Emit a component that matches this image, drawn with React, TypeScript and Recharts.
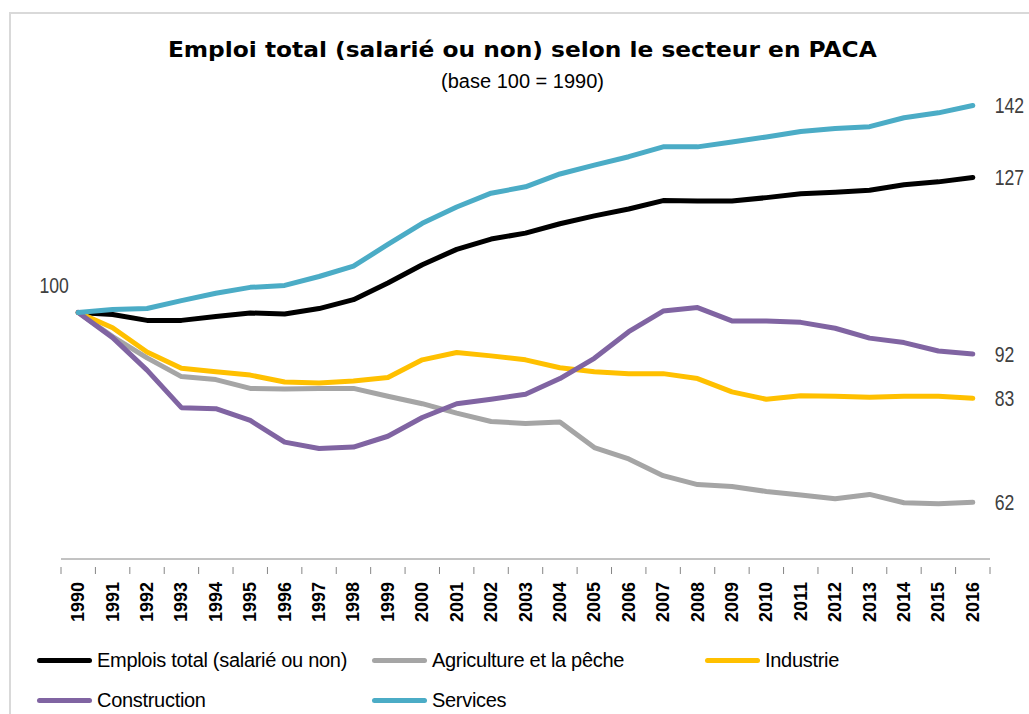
import React from 'react'
import { LineChart, Line, XAxis, YAxis, LabelList } from 'recharts'

const years = [
  '1990', '1991', '1992', '1993', '1994', '1995', '1996', '1997', '1998', '1999',
  '2000', '2001', '2002', '2003', '2004', '2005', '2006', '2007', '2008', '2009',
  '2010', '2011', '2012', '2013', '2014', '2015', '2016',
]

const total = [
  100, 99.6, 98.4, 98.4, 99.2, 99.9, 99.7, 100.8, 102.6, 106.0, 109.7, 112.8, 114.9, 116.1,
  118.0, 119.6, 121.0, 122.7, 122.6, 122.6, 123.3, 124.1, 124.4, 124.8, 125.9, 126.5, 127.4,
]
const agriculture = [
  100, 95.1, 90.8, 87.0, 86.4, 84.6, 84.5, 84.6, 84.6, 83.0, 81.5, 79.6, 77.9, 77.5,
  77.8, 72.6, 70.3, 66.9, 65.1, 64.7, 63.7, 63.0, 62.2, 63.1, 61.4, 61.2, 61.5,
]
const industrie = [
  100, 96.9, 92.0, 88.7, 88.0, 87.3, 85.9, 85.7, 86.1, 86.8, 90.4, 91.9, 91.2, 90.4,
  88.8, 88.0, 87.6, 87.6, 86.6, 83.9, 82.4, 83.1, 83.0, 82.8, 83.0, 83.0, 82.6,
]
const construction = [
  100, 94.9, 88.3, 80.7, 80.5, 78.1, 73.7, 72.4, 72.7, 74.9, 78.7, 81.5, 82.4, 83.4,
  86.6, 90.7, 96.1, 100.3, 101.0, 98.3, 98.3, 98.0, 96.8, 94.8, 93.9, 92.2, 91.6,
]
const services = [
  100, 100.6, 100.8, 102.4, 103.9, 105.1, 105.5, 107.3, 109.4, 113.8, 118.1, 121.4, 124.2, 125.5,
  128.1, 129.9, 131.6, 133.6, 133.6, 134.6, 135.6, 136.7, 137.3, 137.7, 139.5, 140.5, 142.0,
]

const series = [
  { key: 'total', name: 'Emplois total (salarié ou non)', values: total, color: '#000000' },
  { key: 'agriculture', name: 'Agriculture et la pêche', values: agriculture, color: '#A5A5A5' },
  { key: 'industrie', name: 'Industrie', values: industrie, color: '#FFC000' },
  { key: 'construction', name: 'Construction', values: construction, color: '#8064A2' },
  { key: 'services', name: 'Services', values: services, color: '#4BACC6' },
]

const data = years.map((year, i) => {
  const row: Record<string, string | number> = { year }
  series.forEach((s) => {
    row[s.key] = s.values[i]
  })
  return row
})

const sans = "'Liberation Sans', Arial, sans-serif"
// the whole picture is laid out in page pixels, pinned to the top-left corner
const W = 1029
const H = 714
const margin = { top: 66, right: 39, bottom: 85, left: 61 }
const band = (W - margin.left - margin.right) / years.length

const YearTick = (props: any) => {
  const { x, y, payload, index } = props
  return (
    <g>
      <line x1={x - band / 2} x2={x - band / 2} y1={y} y2={y + 7} stroke="#868686" />
      {index === years.length - 1 && (
        <line x1={x + band / 2} x2={x + band / 2} y1={y} y2={y + 7} stroke="#868686" />
      )}
      <g transform={`translate(${x},${y + 15}) rotate(-90)`}>
        <text
          textAnchor="end"
          dominantBaseline="central"
          fontFamily={sans}
          fontWeight="bold"
          fontSize={18}
          fill="#000"
        >
          {payload.value}
        </text>
      </g>
    </g>
  )
}

// narrow-looking numbers, like the Excel source
const endLabel = (props: any) => {
  const { x, y, value, index } = props
  if (index !== years.length - 1) return null
  return (
    <text
      transform={`translate(${x + 22},${y}) scale(0.8,1)`}
      dominantBaseline="central"
      fontFamily={sans}
      fontSize={22}
      fill="#404040"
    >
      {Math.round(value)}
    </text>
  )
}

const startLabel = (props: any) => {
  const { x, y, value, index } = props
  if (index !== 0) return null
  return (
    <text
      transform={`translate(${x - 24},${y - 27}) scale(0.8,1)`}
      textAnchor="middle"
      dominantBaseline="central"
      fontFamily={sans}
      fontSize={22}
      fill="#404040"
    >
      {Math.round(value)}
    </text>
  )
}

const legendCols = [37, 372, 705]
const legendRows = [660, 700]

export default function App() {
  return (
    <div
      style={{
        position: 'absolute',
        left: 0,
        top: 0,
        width: W,
        height: H,
        overflow: 'hidden',
        background: '#fff',
      }}
    >
      <div
        style={{
          position: 'absolute',
          left: 9,
          top: 12,
          width: W + 20,
          height: H + 20,
          border: '2px solid #d9d9d9',
        }}
      />
      <div
        style={{
          position: 'absolute',
          left: 0,
          width: W,
          top: 38,
          textAlign: 'center',
          paddingLeft: 16,
          boxSizing: 'border-box',
        }}
      >
        <span
          style={{
            display: 'inline-block',
            transform: 'scaleX(1.11)',
            fontFamily: "'DejaVu Sans', sans-serif",
            fontWeight: 'bold',
            fontSize: 21,
            color: '#000',
          }}
        >
          Emploi total (salarié ou non) selon le secteur en PACA
        </span>
      </div>
      <div
        style={{
          position: 'absolute',
          left: 0,
          width: W,
          top: 70,
          textAlign: 'center',
          fontFamily: sans,
          fontSize: 20,
          color: '#000',
          paddingLeft: 16,
          boxSizing: 'border-box',
        }}
      >
        (base 100 = 1990)
      </div>
      <LineChart width={W} height={H} data={data} margin={margin} style={{ position: 'absolute', left: 0, top: 0 }}>
        <XAxis
          dataKey="year"
          interval={0}
          height={70}
          padding={{ left: band / 2, right: band / 2 }}
          tickLine={false}
          axisLine={{ stroke: '#868686' }}
          tick={<YearTick />}
        />
        <YAxis hide domain={[50, 150]} />
        {series.map((s) => (
          <Line
            key={s.key}
            type="linear"
            dataKey={s.key}
            name={s.name}
            stroke={s.color}
            strokeWidth={5}
            strokeLinecap="round"
            strokeLinejoin="round"
            dot={false}
            isAnimationActive={false}
          >
            <LabelList dataKey={s.key} content={endLabel} />
            {s.key === 'services' && <LabelList dataKey={s.key} content={startLabel} />}
          </Line>
        ))}
      </LineChart>
      {series.map((s, i) => {
        const left = legendCols[i % 3]
        const top = legendRows[Math.floor(i / 3)]
        return (
          <div
            key={s.key}
            style={{
              position: 'absolute',
              left,
              top: top - 13,
              height: 26,
              display: 'flex',
              alignItems: 'center',
              fontFamily: sans,
              fontSize: 20,
              letterSpacing: -0.3,
              color: '#000',
              whiteSpace: 'nowrap',
            }}
          >
            <span
              style={{
                display: 'inline-block',
                width: 55,
                height: 5,
                borderRadius: 3,
                background: s.color,
                marginRight: 5,
              }}
            />
            {s.name}
          </div>
        )
      })}
    </div>
  )
}
